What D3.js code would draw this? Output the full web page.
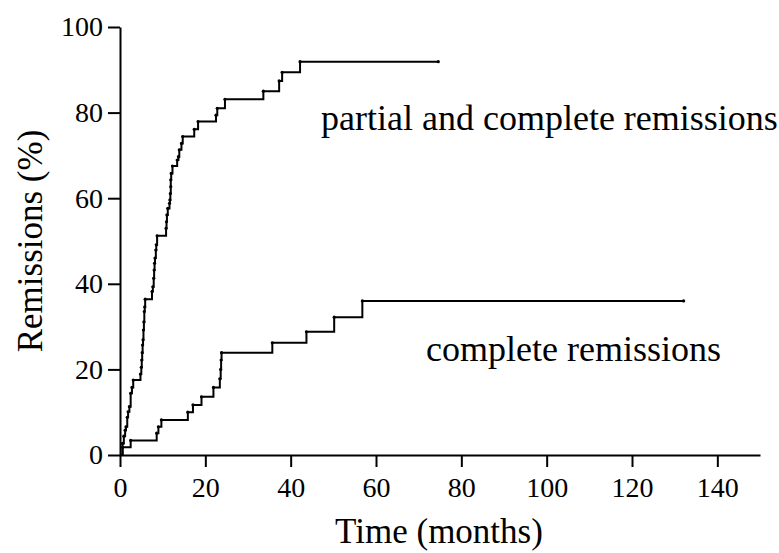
<!DOCTYPE html>
<html>
<head>
<meta charset="utf-8">
<script src="https://cdn.jsdelivr.net/npm/d3@7"></script>
<style>
  body { margin: 0; background: #fff; }
</style>
</head>
<body>
<script>
//chart data

//partial and complete remissions: event times (months) and cumulative %
var partialTime = [0.6, 0.9, 1.2, 1.4, 1.7, 1.9, 2.2, 2.5, 2.8, 3.1,
    4.8, 5.0, 5.1, 5.2, 5.3, 5.4, 5.5, 5.6, 5.7, 5.8, 5.9,
    7.5, 7.7, 7.9, 8.0, 8.1, 8.2, 8.4, 8.5, 8.7,
    10.8, 10.9, 11.0, 11.2, 11.6, 11.7, 11.8, 11.9, 11.9, 12.0, 12.3,
    13.4, 13.7, 13.9, 14.4, 14.7,
    17.4, 18.3, 22.5, 22.8, 24.6, 33.6, 37.3, 38.0, 42.2];
var partialPct = [2.7, 4.4, 5.8, 6.6, 8.8, 10.1, 11.3, 14.4, 15.8, 17.5,
    18.9, 20.5, 22.2, 23.9, 25.7, 26.9, 29.2, 31.1, 33.5, 34.6, 36.4,
    38.2, 39.3, 41.3, 43.2, 44.8, 46.0, 47.9, 49.1, 51.2,
    53.0, 54.5, 56.1, 57.6, 58.8, 59.6, 61.1, 62.7, 64.3, 65.8, 67.5,
    68.9, 69.7, 71.3, 72.8, 74.4,
    76.1, 77.9, 79.4, 81.0, 83.1, 85.0, 87.4, 89.4, 91.9];
var partialEnd = 74.6;

//complete remissions only
var completeTime = [0.6, 2.5, 8.6, 9.0, 9.7, 15.9, 17.1, 19.1, 21.9, 23.4, 23.6, 23.7, 23.8,
    35.7, 43.7, 50.2, 56.8];
var completePct = [1.8, 3.4, 5.1, 6.6, 8.2, 10.0, 11.7, 13.6, 15.8, 17.8, 20.0, 22.2, 23.9,
    26.2, 28.8, 32.2, 36.0];
var completeEnd = 132.1;

//axis ticks
var xTicks = [0, 20, 40, 60, 80, 100, 120, 140];
var yTicks = [0, 20, 40, 60, 80, 100];

window.onload = function(){

    var w = 779, h = 553;
    var serif = "'Liberation Serif'";

    var svg = d3.select("body")
        .append("svg")
        .attr("width", w)
        .attr("height", h);

    //scales
    var x = d3.scaleLinear()
        .domain([0, 150])
        .range([120, 760]);

    var y = d3.scaleLinear()
        .domain([0, 100])
        .range([455, 27]);

    //build step points: start at origin, end flat at last follow-up
    function steps(times, pcts, end){
        var pts = [[0, 0]];
        times.forEach(function(t, i){ pts.push([t, pcts[i]]); });
        pts.push([end, pcts[pcts.length - 1]]);
        return pts;
    }

    var series = [
        { pts: steps(partialTime, partialPct, partialEnd) },
        { pts: steps(completeTime, completePct, completeEnd) }
    ];

    var line = d3.line()
        .curve(d3.curveStepAfter)
        .x(function(d){ return x(d[0]); })
        .y(function(d){ return y(d[1]); });

    //x axis
    var xAxis = d3.axisBottom(x)
        .tickValues(xTicks)
        .tickSize(12)
        .tickSizeOuter(0)
        .tickPadding(10);

    var gx = svg.append("g")
        .attr("transform", "translate(0," + y(0) + ")")
        .call(xAxis);

    //y axis
    var yAxis = d3.axisLeft(y)
        .tickValues(yTicks)
        .tickSize(12)
        .tickSizeOuter(0)
        .tickPadding(5);

    var gy = svg.append("g")
        .attr("transform", "translate(" + x(0) + ",0)")
        .call(yAxis);

    [gx, gy].forEach(function(g){
        g.attr("font-family", serif).attr("font-size", 28);
        g.selectAll("path, line")
            .attr("stroke", "#000")
            .attr("stroke-width", 2);
        g.selectAll("text")
            .attr("fill", "#000");
    });

    //step curves
    svg.selectAll(".curve")
        .data(series)
        .enter()
        .append("path")
        .attr("class", "curve")
        .attr("d", function(d){ return line(d.pts); })
        .attr("fill", "none")
        .attr("stroke", "#000")
        .attr("stroke-width", 2);

    //small marks at each event and at the end
    series.forEach(function(s, i){
        svg.selectAll(".dot" + i)
            .data(s.pts.slice(1))
            .enter()
            .append("circle")
            .attr("class", "dot" + i)
            .attr("cx", function(d){ return x(d[0]); })
            .attr("cy", function(d){ return y(d[1]); })
            .attr("r", 1.6)
            .attr("fill", "#000");
    });

    //curve labels
    svg.append("text")
        .attr("x", 321)
        .attr("y", 130)
        .attr("font-family", serif)
        .attr("font-size", 36)
        .text("partial and complete remissions");

    svg.append("text")
        .attr("x", 426)
        .attr("y", 361)
        .attr("font-family", serif)
        .attr("font-size", 36)
        .text("complete remissions");

    //axis titles
    svg.append("text")
        .attr("text-anchor", "middle")
        .attr("x", 439)
        .attr("y", 543)
        .attr("font-family", serif)
        .attr("font-size", 35)
        .text("Time (months)");

    svg.append("text")
        .attr("text-anchor", "middle")
        .attr("transform", "translate(42," + y(50) + ") rotate(-90)")
        .attr("font-family", serif)
        .attr("font-size", 35)
        .text("Remissions (%)");
};
</script>
</body>
</html>
